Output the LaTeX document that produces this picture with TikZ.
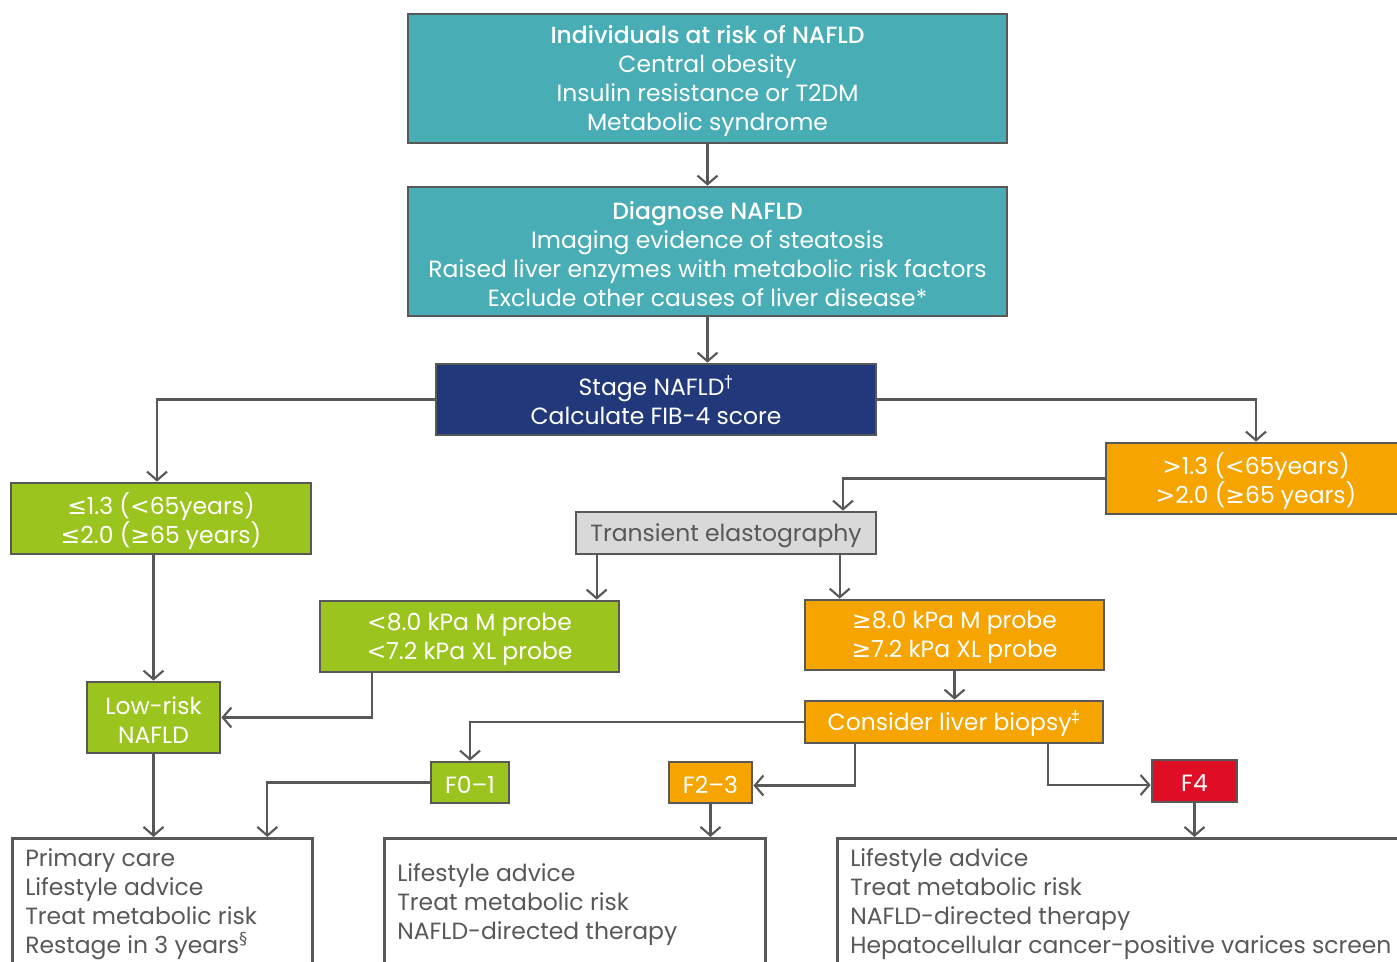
\documentclass[tikz,border=0pt]{standalone}
\usepackage{fontspec}
\setmainfont{Poppins}[BoldFont={Poppins Medium}]
\newfontfamily\symf{DejaVu Sans}
\usetikzlibrary{arrows.meta,calc}
\definecolor{cteal}{HTML}{49ADB5}
\definecolor{cnavy}{HTML}{21397A}
\definecolor{cgreen}{HTML}{9CC41E}
\definecolor{corange}{HTML}{F5A400}
\definecolor{cred}{HTML}{E00E25}
\definecolor{cgrey}{HTML}{D9D9D9}
\definecolor{cline}{HTML}{585858}
\newcommand\myle{{\symf ≤}}
\newcommand\myge{{\symf ≥}}
\newcommand\mylt{{\symf <}}
\newcommand\mygt{{\symf >}}
\newcommand\sups[1]{\smash{\textsuperscript{\symf #1}}}
\tikzset{
  base/.style={draw=cline, line width=2pt, inner sep=0pt, align=center,
    font=\fontsize{17.6}{21.75}\selectfont},
  tealbox/.style={base, fill=cteal, text=white},
  navybox/.style={base, fill=cnavy, text=white},
  greenbox/.style={base, fill=cgreen, text=white},
  orangebox/.style={base, fill=corange, text=white},
  redbox/.style={base, fill=cred, text=white},
  greybox/.style={base, fill=cgrey, text=cline},
  outbox/.style={draw=cline, line width=2pt, inner sep=0pt, anchor=north west},
  outtext/.style={inner sep=0pt, anchor=north west, align=left, text=cline,
    font=\fontsize{17.6}{21.75}\selectfont},
  conn/.style={draw=cline, line width=1.6pt, -{Straight Barb[length=6.5pt,width=15pt,line width=1.6pt]}},
}
% #1 name, #2 style, x1 y1 x2 y2, text
\newcommand\bx[7]{\node[#2, minimum width={(#5-#3)*0.75pt}, minimum height={(#6-#4)*0.75pt}]
  (#1) at ({(#3+#5)/2},{(#4+#6)/2}) {};
  \node[#2, draw=none, fill=none] (#1-t) at ($(#1.center)+(0,2.5)$) {#7};}
\begin{document}
\begin{tikzpicture}[x=0.75pt,y=-0.75pt]
\useasboundingbox (0,0) rectangle (1397,962);
\clip (0,0) rectangle (1397,962);
\bx{top}{tealbox}{408}{14}{1007}{143}{\textbf{Individuals at risk of NAFLD}\\Central obesity\\Insulin resistance or T2DM\\Metabolic syndrome}
\bx{diag}{tealbox}{408}{187}{1007}{316}{\textbf{Diagnose NAFLD}\\Imaging evidence of steatosis\\Raised liver enzymes with metabolic risk factors\\Exclude other causes of liver disease*}
\bx{stage}{navybox}{436}{364}{876}{435}{Stage NAFLD\sups{†}\\Calculate FIB-4 score}
\bx{lg}{greenbox}{11}{483}{311}{554}{\myle1.3 (\mylt65years)\\\myle2.0 (\myge65 years)}
\bx{og}{orangebox}{1106}{443}{1406}{514}{\mygt1.3 (\mylt65years)\\\mygt2.0 (\myge65 years)}
\bx{te}{greybox}{576}{512}{876}{554}{Transient elastography}
\bx{lt8}{greenbox}{320}{601}{619}{672}{\mylt8.0 kPa M probe\\\mylt7.2 kPa XL probe}
\bx{ge8}{orangebox}{805}{600}{1104}{670}{\myge8.0 kPa M probe\\\myge7.2 kPa XL probe}
\bx{low}{greenbox}{87}{682}{220}{753}{Low-risk\\NAFLD}
\bx{cons}{orangebox}{805}{701}{1103}{743}{Consider liver biopsy\sups{‡}}
\bx{f01}{greenbox}{431}{762}{509}{803}{F0–1}
\bx{f23}{orangebox}{669}{762}{752}{803}{F2–3}
\bx{f4}{redbox}{1152}{760}{1237}{802}{F4}
\node[outbox, minimum width=225pt, minimum height=120pt] (o1) at (11,837) {};
\node[outbox, minimum width=285.75pt, minimum height=120pt] (o2) at (383,837) {};
\node[outbox, minimum width=450pt, minimum height=120pt] (o3) at (836,837) {};
\node[outtext] (t1) at (25,848) {Primary care\\Lifestyle advice\\Treat metabolic risk\\Restage in 3 years\sups{§}};
\node[outtext] (t2) at (397,863) {Lifestyle advice\\Treat metabolic risk\\NAFLD-directed therapy};
\node[outtext] (t3) at (850,848) {Lifestyle advice\\Treat metabolic risk\\NAFLD-directed therapy\\Hepatocellular cancer-positive varices screen};
% helper points on box edges
\coordinate (teL) at ($(te.south west)+(22,0)$);
\coordinate (teR) at ($(te.south west)+(265,0)$);
\coordinate (lgA) at ($(lg.north)+(-4,0)$);
\coordinate (teT) at ($(te.north)+(117,0)$);
\coordinate (lt8B) at ($(lt8.south west)+(53,0)$);
\coordinate (consL) at ($(cons.south west)+(51,0)$);
\coordinate (consR) at ($(cons.south west)+(244,0)$);
\coordinate (f23E) at ($(f23.east)+(0,3)$);
\coordinate (f4W) at ($(f4.west)+(0,4)$);
\coordinate (o1T) at ($(o1.north)+(105,0)$);
% connectors
\draw[conn] (top.south) -- (diag.north);
\draw[conn] (diag.south) -- (diag.south |- stage.north);
\draw[conn] (stage.west) -| (lgA);
\draw[conn] (stage.east) -| (og.north);
\draw[conn] (og.west) -| (teT);
\draw[conn] (teL) -- (teL |- lt8.north);
\draw[conn] (teR) -- (teR |- ge8.north);
\draw[conn] (low.north |- lg.south) -- (low.north);
\draw[conn] (lt8B) |- (low.east);
\draw[conn] (ge8.south) -- (ge8.south |- cons.north);
\draw[conn] (cons.west) -| (f01.north);
\draw[conn] (consL) |- (f23E);
\draw[conn] (consR) |- (f4W);
\draw[conn] (low.south) -- (low.south |- o1.north);
\draw[conn] (f01.west) -| (o1T);
\draw[conn] (f23.south) -- (f23.south |- o2.north);
\draw[conn] (f4.south) -- (f4.south |- o3.north);
\end{tikzpicture}
\end{document}
